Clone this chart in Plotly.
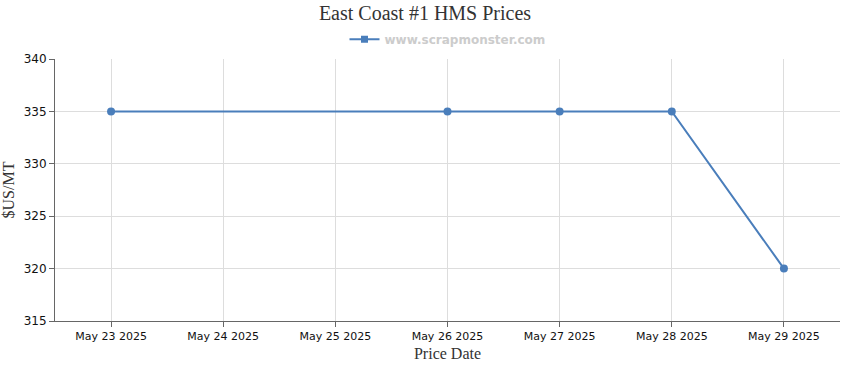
import plotly.graph_objects as go

dates = ["May 23 2025", "May 24 2025", "May 25 2025", "May 26 2025",
         "May 27 2025", "May 28 2025", "May 29 2025"]
prices = [335, None, None, 335, 335, 335, 320]
series_name = "www.scrapmonster.com"
y_ticks = [315, 320, 325, 330, 335, 340]

color = "#4a7ebb"
fig = go.Figure()
fig.add_trace(go.Scatter(
    x=dates, y=prices, name=series_name, mode="lines+markers",
    connectgaps=True, showlegend=False,
    line=dict(color=color, width=2),
    marker=dict(color=color, size=8, symbol="circle"),
))
# legend entry (Highcharts-style square marker)
fig.add_trace(go.Scatter(
    x=[None], y=[None], name=series_name, mode="lines+markers",
    line=dict(color=color, width=2),
    marker=dict(color=color, size=7, symbol="square"),
))

fig.update_layout(
    width=850, height=370,
    margin=dict(l=55, r=10, t=59, b=49),
    paper_bgcolor="white", plot_bgcolor="white",
    title=dict(text="East Coast #1 HMS Prices", x=0.5, xanchor="center",
               y=0.985, yanchor="top",
               font=dict(family="Liberation Serif", size=20, color="#333333")),
    showlegend=True,
    legend=dict(orientation="h", x=0.5, xanchor="center", y=1.02, yanchor="bottom",
                font=dict(family="DejaVu Sans", size=12, color="#cccccc", weight="bold"),
                bgcolor="rgba(0,0,0,0)", itemwidth=30),
    xaxis=dict(
        type="category", categoryorder="array", categoryarray=dates,
        range=[-0.5, 6.5], automargin=False,
        showgrid=True, gridcolor="#dddddd", gridwidth=1,
        showline=True, linecolor="#666666", linewidth=1,
        ticks="outside", ticklen=5, tickcolor="#666666",
        tickfont=dict(family="DejaVu Sans", size=11, color="#111111"),
        title=dict(text="Price Date", standoff=5,
                   font=dict(family="Liberation Serif", size=16, color="#333333")),
        zeroline=False,
    ),
    yaxis=dict(
        range=[315, 340], tickvals=y_ticks, automargin=False,
        showgrid=True, gridcolor="#dddddd", gridwidth=1,
        showline=True, linecolor="#666666", linewidth=1,
        ticks="outside", ticklen=5, tickcolor="#666666",
        tickfont=dict(family="DejaVu Sans", size=12, color="#111111"),
        title=dict(text="$US/MT", standoff=6,
                   font=dict(family="Liberation Serif", size=16, color="#333333")),
        zeroline=False,
    ),
)

fig.write_html("out.html")
